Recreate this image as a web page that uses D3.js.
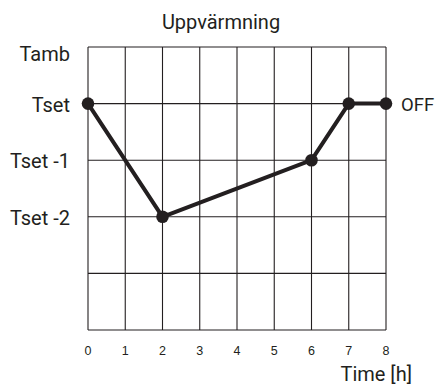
<!DOCTYPE html>
<html><head><meta charset="utf-8">
<script src="https://cdn.jsdelivr.net/npm/d3@7"></script>
<style>body{margin:0;background:#fff}svg text{font-family:Roboto,"Liberation Sans",sans-serif;fill:#231f20}</style>
</head><body><svg id="c" width="435" height="387"></svg>
<script>
const title = "Uppvärmning";
const xTicks = [0,1,2,3,4,5,6,7,8];
const yLevels = [1,0,-1,-2,-3,-4];
const yLabels = [{v:1,t:"Tamb"},{v:0,t:"Tset"},{v:-1,t:"Tset -1"},{v:-2,t:"Tset -2"}];
const timeH = [0,2,6,7,8];
const tempLevel = [0,-2,-1,0,0];
const endLabel = "OFF";
const xTitle = "Time [h]";

const svg = d3.select("#c");
const x = d3.scaleLinear().domain([0,8]).range([88,386]);
const y = d3.scaleLinear().domain([-4,1]).range([330,47]);
const ink = "#231f20";

svg.append("text").attr("x",221).attr("y",29).attr("text-anchor","middle").attr("font-size",20).text(title);

const g = svg.append("g");
g.selectAll("line.v").data(xTicks).join("line").attr("x1",d=>x(d)).attr("x2",d=>x(d)).attr("y1",y(1)).attr("y2",y(-4)).attr("stroke",ink).attr("stroke-width",1.1);
g.selectAll("line.h").data(yLevels).join("line").attr("x1",x(0)).attr("x2",x(8)).attr("y1",d=>y(d)).attr("y2",d=>y(d)).attr("stroke",ink).attr("stroke-width",1.1);

svg.selectAll("text.yl").data(yLabels).join("text").attr("x",70).attr("y",(d,i)=>i===0?y(d.v)+14:y(d.v)+8).attr("text-anchor","end").attr("font-size",20).text(d=>d.t);
svg.selectAll("text.xl").data(xTicks).join("text").attr("x",d=>x(d)).attr("y",355).attr("text-anchor","middle").attr("font-size",12.5).style("font-family","'Liberation Sans Narrow',sans-serif").text(d=>d);
svg.append("text").attr("x",412).attr("y",381).attr("text-anchor","end").attr("font-size",20).text(xTitle);

const pts = timeH.map((t,i)=>[t,tempLevel[i]]);
svg.append("path").attr("d",d3.line().x(d=>x(d[0])).y(d=>y(d[1]))(pts)).attr("fill","none").attr("stroke",ink).attr("stroke-width",4).attr("stroke-linejoin","round");
svg.selectAll("circle").data(pts).join("circle").attr("cx",d=>x(d[0])).attr("cy",d=>y(d[1])).attr("r",6.3).attr("fill",ink);
svg.append("text").attr("x",401).attr("y",y(0)+7).attr("font-size",18.5).text(endLabel);
</script></body></html>
